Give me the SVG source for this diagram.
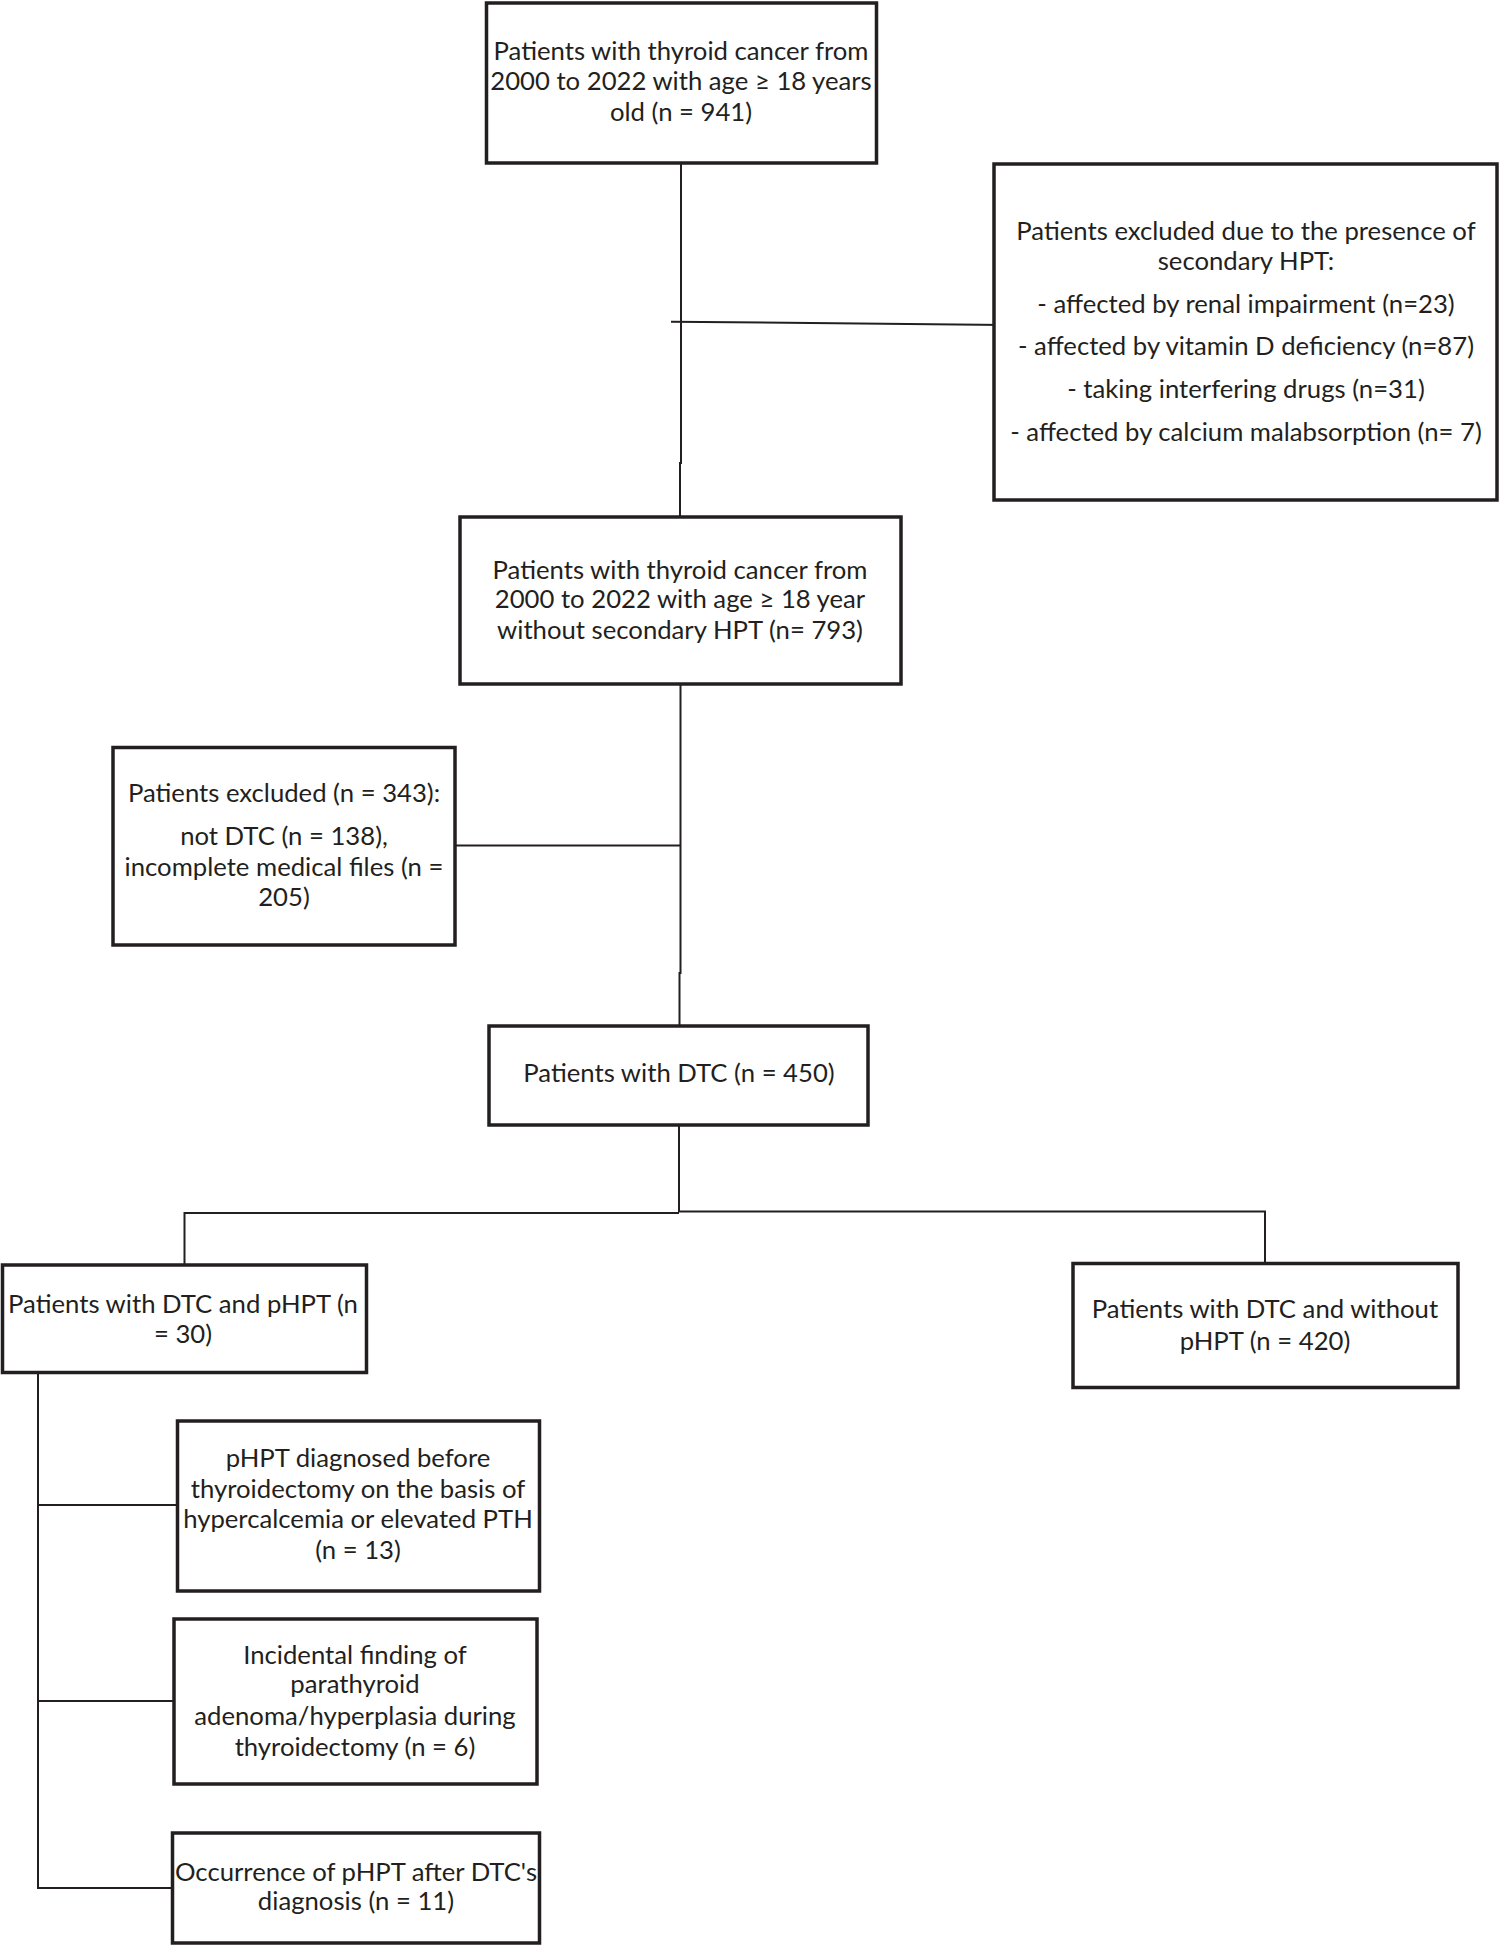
<svg xmlns="http://www.w3.org/2000/svg" width="1499" height="1945" viewBox="0 0 1499 1945">
<style>
.box{fill:#fff;stroke:#231f20;stroke-width:3.5}
.con{fill:none;stroke:#231f20;stroke-width:2}
text{font-family:Lato,"Liberation Sans",sans-serif;font-size:25.7px;fill:#231f20;text-anchor:middle}
</style>
<rect width="1499" height="1945" fill="#fff"/>
<g id="connectors">
<path class="con" d="M681,163 V463 H680 V517"/>
<path class="con" d="M671,321.7 L1005,325"/>
<path class="con" d="M680.5,684 V973 H679.5 V1026"/>
<path class="con" d="M455,845.5 H680.5"/>
<path class="con" d="M679,1125 V1212"/>
<path class="con" d="M184.5,1265 V1213 H679"/>
<path class="con" d="M679,1211.5 H1265 V1263"/>
<path class="con" d="M38,1373 V1888 H172"/>
<path class="con" d="M38,1505 H177"/>
<path class="con" d="M38,1701 H174"/>
</g>
<g id="n1">
<rect class="box" x="486.5" y="3" width="390" height="160"/>
<text x="681" y="60">Patients with thyroid cancer from</text>
<text x="681" y="90">2000 to 2022 with age ≥ 18 years</text>
<text x="681" y="121">old (n = 941)</text>
</g>
<g id="excl1">
<rect class="box" x="994" y="164" width="503" height="336"/>
<text x="1246" y="240">Patients excluded due to the presence of</text>
<text x="1246" y="270">secondary HPT:</text>
<text x="1246" y="313">- affected by renal impairment (n=23)</text>
<text x="1246" y="355">- affected by vitamin D deficiency (n=87)</text>
<text x="1246" y="398">- taking interfering drugs (n=31)</text>
<text x="1246" y="441">- affected by calcium malabsorption (n= 7)</text>
</g>
<g id="n2">
<rect class="box" x="460" y="517" width="441" height="167"/>
<text x="680" y="578.5">Patients with thyroid cancer from</text>
<text x="680" y="607.5">2000 to 2022 with age ≥ 18 year</text>
<text x="680" y="638.6">without secondary HPT (n= 793)</text>
</g>
<g id="excl2">
<rect class="box" x="113" y="747.5" width="342" height="197.5"/>
<text x="284" y="801.5">Patients excluded (n = 343):</text>
<text x="284" y="844.6">not DTC (n = 138),</text>
<text x="284" y="875.7">incomplete medical files (n =</text>
<text x="284" y="906">205)</text>
</g>
<g id="n3">
<rect class="box" x="489" y="1026" width="379" height="99"/>
<text x="679" y="1082">Patients with DTC (n = 450)</text>
</g>
<g id="n4">
<rect class="box" x="2.5" y="1265" width="364" height="107.5"/>
<text x="183" y="1313">Patients with DTC and pHPT (n</text>
<text x="183" y="1343">= 30)</text>
</g>
<g id="n5">
<rect class="box" x="1073" y="1263.5" width="385" height="124"/>
<text x="1265" y="1318">Patients with DTC and without</text>
<text x="1265" y="1350">pHPT (n = 420)</text>
</g>
<g id="n6">
<rect class="box" x="177.5" y="1421" width="362" height="170"/>
<text x="358" y="1467">pHPT diagnosed before</text>
<text x="358" y="1498">thyroidectomy on the basis of</text>
<text x="358" y="1528">hypercalcemia or elevated PTH</text>
<text x="358" y="1559">(n = 13)</text>
</g>
<g id="n7">
<rect class="box" x="174" y="1619" width="363" height="165"/>
<text x="355" y="1663.5">Incidental finding of</text>
<text x="355" y="1693">parathyroid</text>
<text x="355" y="1725">adenoma/hyperplasia during</text>
<text x="355" y="1755.6">thyroidectomy (n = 6)</text>
</g>
<g id="n8">
<rect class="box" x="172.5" y="1833" width="367" height="110"/>
<text x="356" y="1880.7">Occurrence of pHPT after DTC's</text>
<text x="356" y="1910">diagnosis (n = 11)</text>
</g>
</svg>
